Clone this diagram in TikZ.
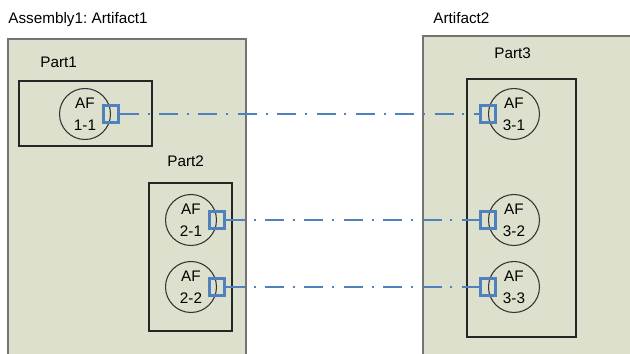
\documentclass[tikz,border=0pt]{standalone}
\usepackage{fontspec}
\setmainfont{Liberation Sans}
\usetikzlibrary{positioning}
\definecolor{artifactfill}{RGB}{221,224,204}
\definecolor{portblue}{RGB}{79,129,189}
\frenchspacing

\begin{document}
\begin{tikzpicture}[x=0.02cm, y=-0.02cm, font=\fontsize{8.7}{12.6}\selectfont,
    artifact/.style={draw=black!55, fill=artifactfill, line width=1.1pt},
    part/.style={draw=black!85, line width=0.8pt},
    af/.style={circle, draw=black!80, line width=0.6pt, minimum size=1.02cm, inner sep=0pt, align=center},
    port/.style={draw=portblue, line width=1.4pt, minimum width=0.3cm, minimum height=0.34cm, inner sep=0pt},
    link/.style={draw=portblue, line width=1.4pt, dash pattern=on 10.8pt off 5pt on 1.2pt off 5.4pt},
    boxtitle/.style={inner sep=0pt, anchor=base west}]

    \clip (0,0) rectangle (630,354);
    \fill[white] (0,0) rectangle (630,354);

    % Artifact1 and Artifact2
    \draw[artifact] (8,39) rectangle (246,370);
    \draw[artifact] (423,36) rectangle (650,370);
    \node[boxtitle] (asm) at (8,24) {Assembly1: Artifact1};
    \node[boxtitle] (art2) at (433,24) {Artifact2};

    % Parts
    \draw[part] (19,81) rectangle (152,146);
    \draw[part] (149,183) rectangle (232,331);
    \draw[part] (467,79) rectangle (576,337);
    \node[boxtitle] (part1) at (40,68) {Part1};
    \node[boxtitle] (part2) at (167,167) {Part2};
    \node[boxtitle] (part3) at (494,59) {Part3};

    % Functions
    \node[af] (af11) at (85,114) {AF\\1-1};
    \node[af] (af21) at (191,220) {AF\\2-1};
    \node[af] (af22) at (191,287) {AF\\2-2};
    \node[af] (af31) at (514,114) {AF\\3-1};
    \node[af] (af32) at (514,220) {AF\\3-2};
    \node[af] (af33) at (514,287) {AF\\3-3};

    % Ports and links
    \foreach \a/\b in {11/31, 21/32, 22/33} {
      \node[port] (p\a) at (af\a.east) {};
      \node[port] (p\b) at (af\b.west) {};
      \draw[link] (p\a) -- (p\b);
    }
\end{tikzpicture}
\end{document}
